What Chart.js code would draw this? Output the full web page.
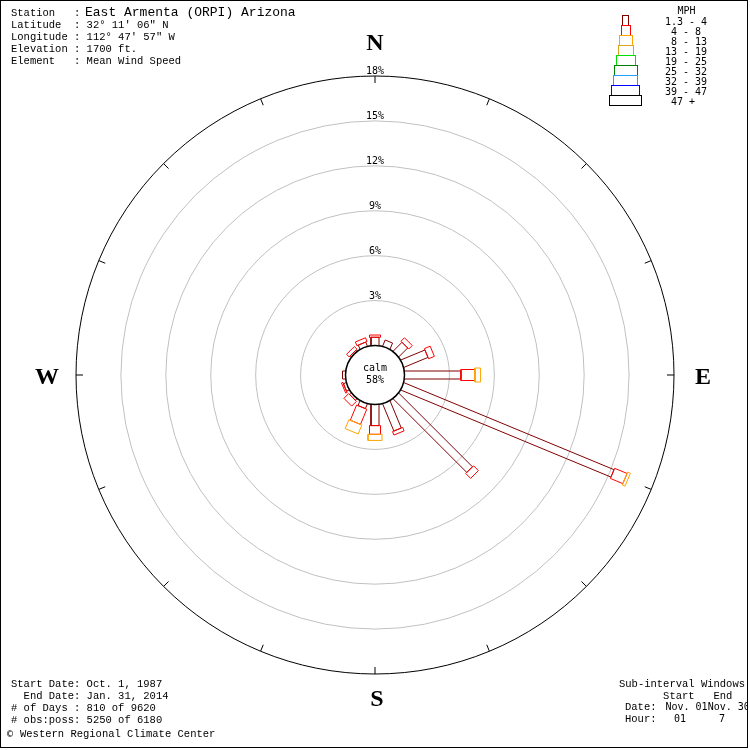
<!DOCTYPE html>
<html>
<head>
<meta charset="utf-8">
<script src="https://cdn.jsdelivr.net/npm/chart.js@4.4.1/dist/chart.umd.min.js"></script>
<style>
  html, body { margin: 0; padding: 0; background: #fff; }
  #wrap { position: relative; width: 748px; height: 748px; overflow: hidden; }
  #frame { position: absolute; left: 0; top: 0; width: 746px; height: 746px; border: 1px solid #000; pointer-events: none; }
  #rose { position: absolute; left: 0; top: 0; }
  .mono { position: absolute; white-space: pre; font-family: "Liberation Mono", "Courier New", monospace; font-size: 10.5px; line-height: 12px; color: #000; }
  .sans { position: absolute; white-space: pre; font-family: "DejaVu Sans Mono", monospace; font-size: 10px; line-height: 10px; color: #000; }
  .box { position: absolute; box-sizing: border-box; height: 11px; border: 1px solid #000; background: transparent; }
</style>
</head>
<body>
<div id="wrap">
  <canvas id="rose" width="750" height="750"></canvas>

  <div class="mono" style="left:11px; top:7px;">Station   :
Latitude  : 32° 11' 06" N
Longitude : 112° 47' 57" W
Elevation : 1700 ft.
Element   : Mean Wind Speed</div>
  <div class="mono" style="left:85px; top:6.5px; font-size:13px;">East Armenta (ORPI) Arizona</div>

  <div id="legend"></div>

  <div class="mono" style="left:11px; top:677.7px;">Start Date: Oct. 1, 1987
  End Date: Jan. 31, 2014
# of Days : 810 of 9620
# obs:poss: 5250 of 6180</div>
  <div class="sans" style="left:7px; top:728.5px; font-size:10px;">©</div>
  <div class="mono" style="left:20px; top:728.2px;">Western Regional Climate Center</div>

  <div class="mono" style="left:619px; top:677.7px;">Sub-interval Windows
       Start   End</div>
  <div class="mono" style="left:625px; top:701.2px;">Date:
Hour:</div>
  <div class="sans" style="left:665.5px; top:701.5px;">Nov. 01Nov. 30</div>
  <div class="sans" style="left:674px; top:713.5px;">01</div>
  <div class="sans" style="left:719px; top:713.5px;">7</div>

  <div id="frame"></div>
</div>

<script>
// wind directions, clockwise from north
const directions = ['N', 'NNE', 'NE', 'ENE', 'E', 'ESE', 'SE', 'SSE',
                    'S', 'SSW', 'SW', 'WSW', 'W', 'WNW', 'NW', 'NNW'];

// speed classes (mph) and their colours
const speedClasses = ['1.3 - 4', ' 4 - 8', ' 8 - 13', '13 - 19', '19 - 25',
                      '25 - 32', '32 - 39', '39 - 47', ' 47 +'];
const speedColors = ['#800000', '#ff0000', '#ffa500', '#daa520', '#00e000',
                     '#008000', '#20a0ff', '#0000ff', '#000000'];

const pct1to4 = [0.55, 0.45, 0.85, 1.75, 3.77, 15.2, 6.97, 1.97, 1.41, 0.35, 0.15, 0.2, 0.2, 0, 0.1, 0.3];
const pct4to8 = [0.15, 0, 0.33, 0.42, 0.93, 0.9, 0.46, 0.25, 0.58, 1.1, 0.45, 0.1, 0, 0, 0.25, 0.27];
const pct8to13 = [0, 0, 0, 0, 0.38, 0.2, 0, 0, 0.41, 0.65, 0, 0, 0, 0, 0, 0];
const series = [pct1to4, pct4to8, pct8to13];

const calmPercent = 58;
const ringValues = [3, 6, 9, 12, 15, 18];

// geometry / style
const CALM_R = 1.97;               // calm circle radius, in percent units
const OUTER = CALM_R + 18;         // outer circle
const PX_PER_UNIT = 299 / OUTER;
const barWidthsPx = [8, 11, 14, 16, 20, 24, 25, 29, 33];
const legendBoxWidths = [7, 10, 14, 16, 20, 24, 25, 29, 33];

// legend
(function buildLegend() {
  const host = document.getElementById('legend');
  speedColors.forEach((c, k) => {
    const b = document.createElement('div');
    b.className = 'box';
    const w = legendBoxWidths[k];
    b.style.left = (625.5 - w / 2) + 'px';
    b.style.top = (15 + 10 * k) + 'px';
    b.style.width = w + 'px';
    b.style.borderColor = c;
    host.appendChild(b);
  });
  const mph = document.createElement('div');
  mph.className = 'sans';
  mph.style.left = '677.5px';
  mph.style.top = '6px';
  mph.textContent = 'MPH';
  host.appendChild(mph);
  const labels = document.createElement('div');
  labels.className = 'sans';
  labels.style.left = '665px';
  labels.style.top = '17.3px';
  labels.textContent = speedClasses.join('\n');
  host.appendChild(labels);
})();

// one closed rectangle per direction and speed class
const datasets = [];
directions.forEach((dir, i) => {
  const ang = i * 22.5 * Math.PI / 180;
  const ux = Math.sin(ang), uy = Math.cos(ang);
  const nx = uy, ny = -ux;
  let r0 = CALM_R;
  series.forEach((vals, k) => {
    const v = vals[i];
    if (!v) return;
    const rIn = k === 0 ? r0 - 0.2 : r0;
    const rOut = r0 + v;
    const h = barWidthsPx[k] / 2 / PX_PER_UNIT;
    const pts = [
      { x: rIn * ux + h * nx, y: rIn * uy + h * ny },
      { x: rOut * ux + h * nx, y: rOut * uy + h * ny },
      { x: rOut * ux - h * nx, y: rOut * uy - h * ny },
      { x: rIn * ux - h * nx, y: rIn * uy - h * ny }
    ];
    pts.push(pts[0]);
    datasets.push({
      label: dir + ' ' + speedClasses[k],
      data: pts,
      showLine: true,
      borderColor: speedColors[k],
      backgroundColor: '#fff',
      borderWidth: 1,
      pointRadius: 0,
      tension: 0,
      fill: false,
      order: 10 - k
    });
    r0 = rOut;
  });
});

const rosePlugin = {
  id: 'rose',
  beforeDatasetsDraw(chart) {
    const { ctx, scales: { x, y } } = chart;
    const cx = x.getPixelForValue(0), cy = y.getPixelForValue(0);
    const rad = v => x.getPixelForValue(v) - cx;
    ctx.save();
    ctx.lineWidth = 1;

    ringValues.forEach(t => {
      ctx.beginPath();
      ctx.strokeStyle = t === 18 ? '#000' : '#c0c0c0';
      ctx.arc(cx, cy, rad(CALM_R + t), 0, Math.PI * 2);
      ctx.stroke();
    });

    // direction ticks on the outer circle
    const R = rad(OUTER);
    ctx.strokeStyle = '#000';
    directions.forEach((d, i) => {
      const a = i * 22.5 * Math.PI / 180;
      ctx.beginPath();
      ctx.moveTo(cx + Math.sin(a) * R, cy - Math.cos(a) * R);
      ctx.lineTo(cx + Math.sin(a) * (R - 7), cy - Math.cos(a) * (R - 7));
      ctx.stroke();
    });

    ctx.fillStyle = '#000';
    ctx.font = '10px "DejaVu Sans Mono"';
    ctx.textAlign = 'center';
    ctx.textBaseline = 'alphabetic';
    ringValues.forEach(t => {
      ctx.fillText(t + '%', cx, cy - rad(CALM_R + t) - 2);
    });

    ctx.font = 'bold 24px "Liberation Serif"';
    ctx.fillText('N', cx, cy - R - 26);
    ctx.fillText('S', cx + 2, cy + R + 32);
    ctx.fillText('E', cx + R + 29, cy + 9);
    ctx.fillText('W', cx - R - 29, cy + 9);
    ctx.restore();
  },
  afterDatasetsDraw(chart) {
    const { ctx, scales: { x, y } } = chart;
    const cx = x.getPixelForValue(0), cy = y.getPixelForValue(0);
    const r = x.getPixelForValue(CALM_R) - cx;
    ctx.save();
    ctx.beginPath();
    ctx.arc(cx, cy, r, 0, Math.PI * 2);
    ctx.fillStyle = '#fff';
    ctx.fill();
    ctx.lineWidth = 1.5;
    ctx.strokeStyle = '#000';
    ctx.stroke();
    ctx.fillStyle = '#000';
    ctx.font = '10px "DejaVu Sans Mono"';
    ctx.textAlign = 'center';
    ctx.fillText('calm', cx, cy - 4);
    ctx.fillText(calmPercent + '%', cx, cy + 8);
    ctx.restore();
  }
};

const ctx = document.getElementById('rose').getContext('2d');
new Chart(ctx, {
  type: 'scatter',
  data: { datasets },
  options: {
    responsive: false,
    animation: false,
    events: [],
    layout: { padding: 76 },
    scales: {
      x: { type: 'linear', min: -OUTER, max: OUTER, display: false },
      y: { type: 'linear', min: -OUTER, max: OUTER, display: false }
    },
    plugins: {
      legend: { display: false },
      tooltip: { enabled: false }
    }
  },
  plugins: [rosePlugin]
});
</script>
</body>
</html>
